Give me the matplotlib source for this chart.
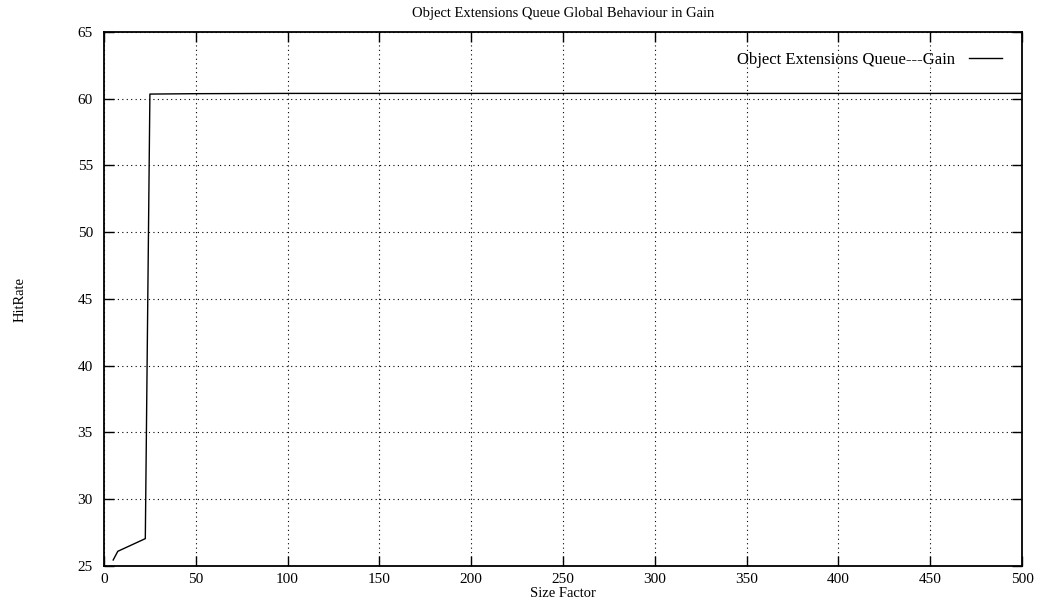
import matplotlib
matplotlib.use("Agg")
import matplotlib.pyplot as plt

size_factor = [5, 7.5, 22.5, 25, 50, 100, 150, 200, 250, 300, 350, 400, 450, 500]
hit_rate = [25.45, 26.1, 27.05, 60.35, 60.38, 60.4, 60.4, 60.4, 60.4, 60.4, 60.4, 60.4, 60.4, 60.4]

x_ticks = list(range(0, 501, 50))
y_ticks = list(range(25, 66, 5))

plt.rcParams['font.family'] = ['Liberation Serif', 'DejaVu Serif']

fig = plt.figure(figsize=(10.37, 6.03), dpi=100)
ax = fig.add_axes([104/1037, 37/603, 918/1037, 534/603])

ax.plot(size_factor, hit_rate, color='black', linewidth=1.0,
        label='Object Extensions Queue---Gain')

ax.set_xlim(0, 500)
ax.set_ylim(25, 65)
ax.set_xticks(x_ticks)
ax.set_yticks(y_ticks)
ax.tick_params(direction='in', top=True, right=True, length=7, width=1,
               labelsize=11)
ax.tick_params(axis='x', pad=5)
ax.tick_params(axis='y', pad=8)
ax.grid(True, color='black', linestyle=(0, (1, 3)), linewidth=0.8)
for s in ax.spines.values():
    s.set_linewidth(1.3)

ax.set_title('Object Extensions Queue Global Behaviour in Gain', fontsize=10.5, pad=11)
ax.set_xlabel('Size Factor', fontsize=10.5, labelpad=1)
ax.set_ylabel('HitRate', fontsize=10.5, labelpad=37)

leg = ax.legend(loc='upper right', frameon=False, markerfirst=False,
                fontsize=12, handlelength=2.0, borderaxespad=0.8)

fig.savefig('out.png', dpi=100)
